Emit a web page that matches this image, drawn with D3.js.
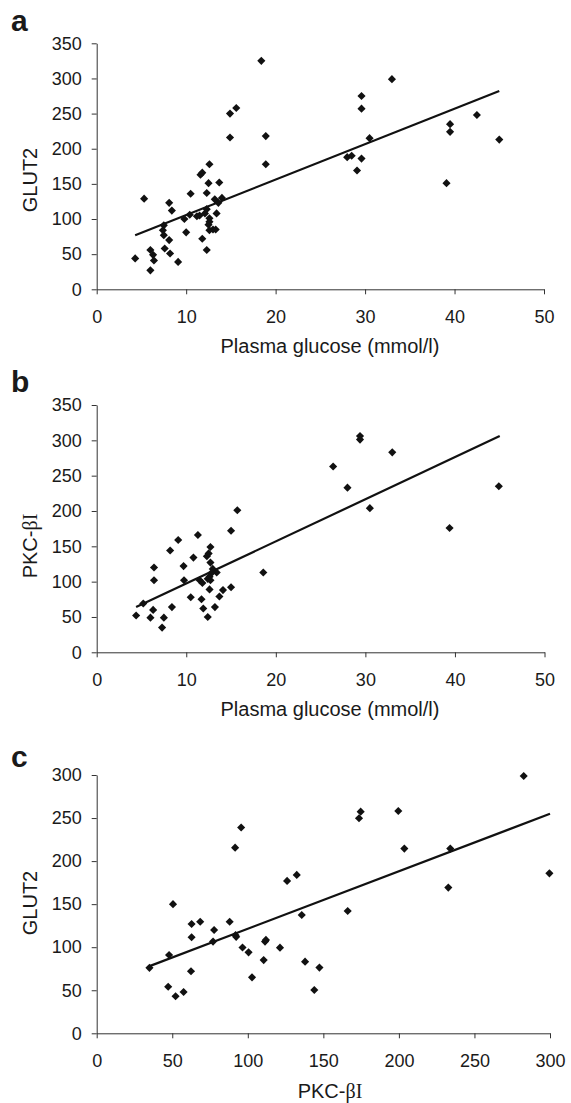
<!DOCTYPE html>
<html>
<head>
<meta charset="utf-8">
<script src="https://cdn.jsdelivr.net/npm/d3@7"></script>
<style>
    body { margin: 0; background: #fff; }
    svg text { font-family: "Liberation Sans", Arial, sans-serif; fill: #1a1a1a; }
</style>
</head>
<body>
<div id="chart"></div>
<script>
// panel a: plasma glucose vs GLUT2
const glucoseA = [4.3, 5.3, 6.0, 6.0, 6.3, 6.4, 7.4, 7.5, 7.5, 7.6, 8.1, 8.2, 8.1, 8.4, 9.1, 9.8, 10.0, 10.5, 10.4, 11.2,
    11.5, 11.6, 11.8, 11.8, 12.1, 12.3, 12.3, 12.3, 12.5, 12.6, 12.6, 12.5, 12.6, 12.6, 13.0, 13.3, 13.2, 13.4, 13.6, 13.7,
    14.0, 14.9, 14.9, 15.6, 18.4, 18.9, 18.9, 28.0, 28.5, 29.1, 29.6, 29.6, 29.6, 30.5, 33.0, 39.1, 39.5, 39.5, 42.5, 45.0];
const glut2A = [44, 129, 27, 56, 49, 41, 84, 91, 77, 58, 70, 51, 123, 112, 39, 100, 81, 136, 106, 104,
    105, 163, 166, 72, 108, 114, 137, 56, 151, 101, 96, 92, 178, 84, 85, 85, 128, 108, 123, 152,
    130, 216, 250, 258, 325, 218, 178, 188, 190, 169, 186, 257, 275, 215, 299, 151, 224, 235, 248, 213];
const trendA = [[4.3, 77], [45.0, 282]];

// panel b: plasma glucose vs PKC-betaI
const glucoseB = [4.4, 5.2, 6.0, 6.3, 6.4, 6.4, 7.3, 7.5, 8.4, 8.2, 9.1, 9.7, 9.75, 10.5, 10.8, 11.3, 11.5, 11.8, 11.7, 11.9,
    12.4, 12.3, 12.5, 12.7, 12.7, 12.96, 13.4, 12.8, 12.6, 12.4, 12.7, 12.6, 13.2, 13.7, 14.1, 15.0, 15.0, 15.7, 18.6,
    26.4, 28.0, 29.4, 29.4, 30.5, 33.0, 39.4, 44.9];
const pkcB = [52, 69, 49, 60, 102, 120, 35, 49, 64, 144, 159, 122, 102, 78, 134, 166, 102, 98, 75, 62,
    50, 136, 140, 149, 127, 118, 113, 112, 107, 104, 102, 89, 64, 79, 88, 92, 172, 201, 113,
    263, 233, 306, 301, 204, 283, 176, 235];
const trendB = [[4.4, 64], [45.0, 306]];

// panel c: PKC-betaI vs GLUT2
const pkcC = [34.9, 47.9, 47.3, 52.2, 57.5, 50.5, 62.8, 62.8, 62.4, 68.5, 77.7, 77.0, 88.0, 91.9, 92.3, 91.6, 95.6, 96.5,
    100.5, 102.8, 110.5, 111.4, 112.0, 121.3, 126.0, 132.4, 135.7, 137.9, 144.0, 147.4, 166.1, 173.6, 174.7, 199.6,
    203.6, 232.7, 234.0, 282.6, 299.6];
const glut2C = [76, 91, 54, 43, 48, 150, 127, 111.5, 72, 129.5, 120, 106.5, 129.5, 114, 112, 215.6, 239, 99.7,
    94, 65, 85, 106.5, 108.5, 99.5, 177, 184, 137.4, 83.2, 50.3, 76.3, 142, 249.7, 257.4, 258.2,
    214.5, 169.2, 214.5, 298.9, 185.8];
const trendC = [[35, 78], [300, 255]];

const glucoseTicks = [0, 10, 20, 30, 40, 50];
const yTicks350 = [0, 50, 100, 150, 200, 250, 300, 350];
const pkcTicks = [0, 50, 100, 150, 200, 250, 300];

const width = 571, height = 1103;
const svg = d3.select("#chart").append("svg").attr("width", width).attr("height", height);

const panels = [
    { letter: "a", xs: glucoseA, ys: glut2A, trend: trendA, xDomain: [0, 50], yDomain: [0, 350],
      xTicks: glucoseTicks, yTicks: yTicks350, left: 96.7, right: 544, top: 43.3, bottom: 289.3,
      letterY: 31, xTitleY: 353, yTitleY: 180, xTitle: ["Plasma glucose (mmol/l)"], yTitle: ["GLUT2"] },
    { letter: "b", xs: glucoseB, ys: pkcB, trend: trendB, xDomain: [0, 50], yDomain: [0, 350],
      xTicks: glucoseTicks, yTicks: yTicks350, left: 96.7, right: 544.5, top: 405, bottom: 652.3,
      letterY: 392, xTitleY: 716, yTitleY: 546, xTitle: ["Plasma glucose (mmol/l)"], yTitle: ["PKC-", "βI"] },
    { letter: "c", xs: pkcC, ys: glut2C, trend: trendC, xDomain: [0, 300], yDomain: [0, 300],
      xTicks: pkcTicks, yTicks: pkcTicks, left: 96.7, right: 550, top: 775, bottom: 1033.3,
      letterY: 767, xTitleY: 1098, yTitleY: 903, xTitle: ["PKC-", "βI"], yTitle: ["GLUT2"] }
];

// sans part + serif greek part, like the original figure
function addTitle(text, parts) {
    parts.forEach(function (p, i) {
        const t = text.append("tspan").text(p);
        if (i > 0) t.style("font-family", '"Liberation Serif", "Times New Roman", serif');
    });
}

panels.forEach(function (p) {
    const x = d3.scaleLinear().domain(p.xDomain).range([p.left, p.right]);
    const y = d3.scaleLinear().domain(p.yDomain).range([p.bottom, p.top]);
    const g = svg.append("g");

    const yAxis = g.append("g").attr("transform", `translate(${p.left},0)`)
        .call(d3.axisLeft(y).tickValues(p.yTicks).tickSize(5).tickPadding(10).tickSizeOuter(0));
    const xAxis = g.append("g").attr("transform", `translate(0,${p.bottom})`)
        .call(d3.axisBottom(x).tickValues(p.xTicks).tickSize(5).tickPadding(16).tickSizeOuter(0));
    [xAxis, yAxis].forEach(function (a) {
        a.select(".domain").attr("stroke", "#333");
        a.selectAll(".tick line").attr("stroke", "#333");
        a.selectAll(".tick text").attr("font-size", 18).attr("fill", "#1a1a1a")
            .attr("font-family", '"Liberation Sans", Arial, sans-serif');
    });

    const line = d3.line().x(d => x(d[0])).y(d => y(d[1]));
    g.append("path").datum(p.trend).attr("d", line)
        .attr("fill", "none").attr("stroke", "#111").attr("stroke-width", 2.2);

    const pts = p.xs.map((v, i) => [v, p.ys[i]]);
    const diamond = d3.symbol().type(d3.symbolSquare).size(33);
    g.selectAll(".pt").data(pts).enter().append("path")
        .attr("d", diamond)
        .attr("transform", d => `translate(${x(d[0])},${y(d[1])}) rotate(45)`)
        .attr("fill", "#111");

    g.append("text").attr("x", 11).attr("y", p.letterY)
        .attr("font-size", 30).attr("font-weight", "bold").text(p.letter);

    const xt = g.append("text").attr("x", 330).attr("y", p.xTitleY)
        .attr("text-anchor", "middle").attr("font-size", 20);
    addTitle(xt, p.xTitle);

    const yt = g.append("text").attr("transform", `translate(37,${p.yTitleY}) rotate(-90)`)
        .attr("text-anchor", "middle").attr("font-size", 20);
    addTitle(yt, p.yTitle);
});
</script>
</body>
</html>
